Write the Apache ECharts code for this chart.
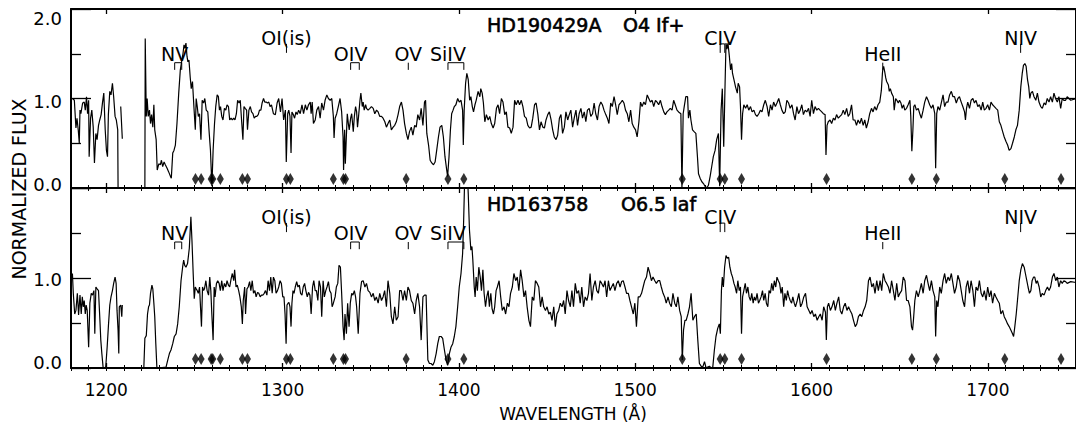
<!DOCTYPE html>
<html><head><meta charset="utf-8">
<script src="https://cdn.jsdelivr.net/npm/echarts@6/dist/echarts.min.js"></script>
<style>html,body{margin:0;padding:0;background:#fff}#c{width:1076px;height:435px}</style>
</head><body><div id="c"></div>
<script>
// ---- data ----
const xTicks = [1200,1300,1400,1500,1600,1700];
const yTicks = [0,1,2];
const titleTop = ['HD190429A','O4 If+'];
const titleBottom = ['HD163758','O6.5 Iaf'];

// interstellar lines (diamonds)
const ismLines = [1250.6,1253.8,1259.5,1260.4,1264.7,1277.2,1280.1,1302.2,1304.4,1328.8,1334.5,1335.7,1370.1,1393.8,1402.8,1526.7,1548.2,1550.8,1560.3,1608.5,1656.9,1670.8,1709.6,1741.5];

// stellar line identifications
const lineNames  = ['NV','OI(is)','OIV','OV','SiIV','CIV','HeII','NIV'];
const lineLam1   = [1238.8,1302.2,1338.6,1371.3,1393.8,1548.2,1640.4,1718.6];
const lineLam2   = [1242.8,null,1343.5,null,1402.8,1550.8,null,null];
const lineTextY  = [1.50,1.68,1.50,1.50,1.50,1.68,1.50,1.68];
const lineMarkTop= [1.40,1.61,1.40,1.40,1.40,1.61,1.40,1.61];
const lineMarkBot= [1.32,1.51,1.32,1.32,1.32,1.51,1.32,1.51];

// HD190429A spectrum [wavelength, normalized flux]
const specTop = [
[1180.9,1.00],[1181.9,0.98],[1182.8,0.67],[1183.4,0.78],[1184.1,0.65],[1184.7,0.50],[1185.1,0.87],[1185.6,0.83],[1186.6,0.95],[1187.5,0.96],[1188.1,0.87],[1188.8,1.02],[1189.4,0.83],[1190.0,0.98],[1190.3,0.35],[1191.1,0.78],[1191.8,0.87],[1192.6,0.68],[1193.3,0.28],[1194.1,0.61],[1194.8,0.54],[1195.6,0.70],[1196.3,0.76],[1197.1,0.82],[1197.9,0.96],[1198.6,1.06],[1199.4,0.65],[1200.1,0.42],[1200.7,0.35],[1201.2,0.82],[1202.0,1.08],[1202.7,1.04],[1203.5,1.17],[1204.2,1.02],[1205.0,0.80],[1205.7,0.76],[1206.5,0.65],[1206.7,0.0],[1207.0,null],
[1208.2,0.91],[1209.1,0.55],[1210.0,null],
[1221.9,0.0],[1222.1,1.67],[1222.7,0.80],[1223.2,1.00],[1223.8,0.80],[1224.5,0.87],[1225.1,0.72],[1225.7,0.82],[1226.4,0.68],[1227.0,0.93],[1227.5,0.65],[1228.3,0.54],[1228.9,0.20],[1229.8,0.27],[1230.7,0.26],[1231.3,0.31],[1232.0,0.24],[1232.8,0.29],[1233.5,0.26],[1234.5,0.22],[1235.4,0.18],[1236.4,0.13],[1236.9,0.11],[1237.7,0.39],[1238.4,0.42],[1239.2,0.48],[1240.1,0.72],[1241.1,1.06],[1242.0,1.32],[1242.9,1.43],[1243.5,1.50],[1244.1,1.60],[1244.6,1.56],[1245.2,1.62],[1245.8,1.47],[1246.3,1.41],[1246.9,1.43],[1247.6,1.24],[1248.2,1.11],[1248.9,1.19],[1249.7,0.91],[1250.5,0.65],[1251.0,1.00],[1251.6,0.91],[1252.2,0.80],[1252.9,0.83],[1253.7,0.54],[1254.4,0.98],[1255.2,0.95],[1255.9,1.00],[1256.7,0.87],[1257.6,0.85],[1258.4,0.61],[1259.1,0.42],[1259.9,0.02],[1260.6,0.42],[1261.4,0.72],[1262.1,0.91],[1262.9,1.04],[1263.6,1.02],[1264.2,0.87],[1264.8,0.91],[1265.5,0.80],[1266.2,0.76],[1267.0,0.89],[1267.8,0.87],[1268.5,0.93],[1269.3,0.91],[1270.0,0.76],[1270.8,0.78],[1271.5,0.76],[1272.3,0.78],[1273.0,0.76],[1273.8,0.83],[1274.5,0.98],[1275.3,0.95],[1276.0,0.98],[1276.8,0.74],[1277.5,0.54],[1278.1,0.91],[1278.8,0.89],[1279.6,0.87],[1280.1,0.65],[1280.9,0.87],[1281.7,0.91],[1282.4,0.85],[1283.2,0.83],[1283.9,0.78],[1284.7,0.80],[1285.4,0.80],[1286.2,0.82],[1286.9,0.87],[1287.7,0.87],[1288.4,0.95],[1289.2,1.00],[1289.9,0.96],[1290.7,0.96],[1291.4,0.95],[1292.2,0.96],[1292.9,0.91],[1293.7,0.93],[1294.8,0.83],
[1295.9,0.82],[1296.9,0.95],[1297.8,1.00],[1298.8,0.85],[1299.7,1.00],[1300.6,0.76],[1301.6,0.87],[1302.1,0.29],[1302.9,0.83],[1303.5,0.87],[1304.2,0.80],[1304.8,0.39],[1305.3,0.85],[1306.1,0.82],[1306.8,0.78],[1307.6,0.85],[1308.3,0.82],[1309.1,0.87],[1310.0,0.83],[1311.0,0.93],[1311.9,0.83],[1312.9,0.93],[1313.8,0.87],[1314.7,0.93],[1315.7,0.96],[1316.2,0.83],[1316.8,0.96],[1317.5,0.72],[1318.5,0.76],[1319.4,0.87],[1320.4,0.91],[1321.3,0.78],[1322.2,0.95],[1323.2,0.87],[1324.1,0.98],[1325.1,1.04],[1326.0,1.00],[1327.0,0.98],[1327.9,1.00],[1328.8,0.80],[1329.2,0.56],[1329.8,0.78],[1330.7,0.83],[1331.6,0.91],[1332.6,1.00],[1333.5,0.85],[1334.3,0.57],[1334.6,0.20],[1335.2,0.65],[1335.6,0.27],[1336.1,0.54],[1336.7,0.83],[1337.3,0.72],[1337.8,0.65],[1338.6,0.78],[1339.2,0.83],[1340.1,0.63],[1340.7,0.80],[1341.4,0.91],[1342.0,0.85],[1342.5,0.68],[1343.1,0.80],[1343.9,0.98],[1344.4,1.06],[1345.2,0.91],[1345.7,0.96],[1346.3,0.87],[1347.1,0.93],[1347.6,0.89],[1348.5,0.87],[1349.5,0.89],[1350.4,0.91],[1351.4,0.89],[1352.3,0.83],[1353.3,0.87],[1354.2,0.85],[1355.1,0.80],[1356.1,0.80],[1357.0,0.78],[1358.0,0.74],[1358.9,0.68],[1359.8,0.72],[1360.8,0.76],[1361.7,0.65],[1362.7,0.68],[1363.6,0.70],[1364.5,0.74],[1365.5,0.82],[1366.4,0.91],[1367.4,0.96],[1368.3,0.87],[1369.2,0.72],[1370.2,0.61],[1371.1,0.54],[1372.0,0.63],[1373.0,0.68],[1373.9,0.59],[1374.9,0.70],[1375.8,0.68],[1376.7,0.82],[1377.7,0.76],[1378.6,0.89],[1379.6,0.70],[1380.5,0.96],[1381.1,0.98],[1381.8,0.61],[1382.8,0.48],[1383.7,0.31],[1384.6,0.28],[1385.6,0.26],[1386.5,0.29],[1387.4,0.42],[1388.4,0.57],[1389.3,0.68],[1390.3,0.70],[1391.2,0.57],[1392.1,0.35],[1393.1,0.20],[1393.6,0.13],[1394.4,0.35],[1395.2,0.65],[1395.9,0.83],[1396.7,0.87],[1397.4,0.91],[1398.3,0.93],[1399.3,1.00],[1400.2,0.96],[1401.2,0.98],[1402.1,0.87],[1402.5,0.48],[1403.0,0.87],[1403.8,1.17],[1404.5,1.28],[1405.3,1.21],[1406.1,0.98],[1406.8,1.02],[1407.6,0.91],[1408.3,0.85],[1409.1,0.93],[1409.8,0.98],
[1410.9,1.08],[1411.9,1.02],[1412.4,1.11],[1413.2,1.06],[1413.9,0.95],[1414.7,0.74],[1415.6,0.82],[1416.6,0.76],[1417.5,0.80],[1418.4,0.72],[1419.4,0.67],[1420.3,0.72],[1421.3,0.89],[1422.2,0.93],[1423.1,0.83],[1424.1,1.00],[1425.0,0.96],[1426.0,0.82],[1426.9,0.85],[1427.8,0.68],[1428.8,0.67],[1429.7,0.61],[1430.7,0.68],[1431.6,0.98],[1432.5,0.93],[1433.5,0.98],[1434.4,0.93],[1435.4,0.98],[1436.3,0.91],[1437.2,0.80],[1438.2,0.78],[1439.1,0.70],[1440.1,0.67],[1441.0,0.68],[1441.9,0.78],[1442.9,0.93],[1443.8,0.95],[1444.8,0.82],[1445.7,0.65],[1446.6,0.74],[1447.6,0.68],[1448.5,0.67],[1449.4,0.76],[1450.4,0.82],[1451.3,0.85],[1452.3,0.76],[1453.2,0.65],[1454.1,0.57],[1455.1,0.54],[1456.0,0.59],[1457.0,0.78],[1457.9,0.82],[1458.8,0.61],[1459.8,0.68],[1460.7,0.85],[1461.7,0.76],[1462.6,0.82],[1463.5,0.87],[1464.5,0.68],[1465.4,0.78],[1466.4,0.87],[1467.3,0.70],[1468.2,0.83],[1469.2,0.89],[1470.1,0.78],[1471.1,0.85],[1472.0,0.74],[1472.9,0.87],[1473.9,0.89],[1474.8,0.80],[1475.8,0.83],[1476.7,0.95],[1477.6,0.83],[1478.6,0.76],[1479.5,0.91],[1480.5,0.96],[1481.4,0.93],[1482.3,0.87],[1483.3,0.82],[1484.2,0.78],[1485.1,0.72],[1486.1,0.95],[1487.0,0.91],[1488.0,1.02],[1488.9,0.93],[1489.8,0.82],[1490.8,0.93],[1491.7,0.95],[1492.7,0.98],[1493.6,0.95],[1494.5,0.87],[1495.5,0.83],[1496.4,0.74],[1497.4,0.87],[1498.3,0.72],[1499.2,0.68],[1500.2,0.65],[1501.1,0.57],[1502.1,0.74],[1503.0,0.96],[1503.9,0.91],[1504.9,0.96],[1505.8,0.93],[1506.8,1.04],[1507.7,1.00],[1508.6,0.96],[1509.6,0.98],[1510.5,0.91],[1511.5,0.98],[1512.4,0.96],[1513.3,0.93],[1514.3,0.98],[1515.2,0.91],[1516.2,0.85],[1517.1,0.82],[1518.0,0.85],[1519.0,0.87],[1519.9,0.89],[1520.9,0.87],[1521.8,0.98],[1522.7,0.93],[1523.7,0.87],[1524.6,0.85],
[1525.9,0.83],[1526.5,0.0],[1527.2,0.83],[1527.8,0.91],[1528.7,1.02],[1529.7,1.02],[1530.2,0.78],[1531.0,0.87],[1531.6,0.76],[1532.5,0.65],[1533.4,0.63],[1534.4,0.61],[1535.3,0.35],[1535.9,0.16],[1536.8,0.11],[1537.8,0.07],[1538.7,0.05],[1539.6,0.02],[1540.6,0.0],[1541.5,0.03],[1542.5,0.13],[1543.4,0.24],[1544.3,0.35],[1545.3,0.42],[1546.2,0.54],[1547.2,0.61],[1547.9,0.02],[1548.7,0.87],[1549.4,1.11],[1550.2,0.46],[1550.9,1.10],[1551.5,1.62],[1552.0,1.55],[1552.6,1.62],[1553.4,1.47],[1554.1,1.32],[1554.7,1.39],[1555.2,1.28],[1556.0,1.21],[1556.9,1.13],[1557.9,1.06],[1558.4,1.17],[1559.2,1.13],[1559.7,0.91],[1560.3,0.54],[1560.9,0.83],[1561.6,0.93],[1562.6,0.89],[1563.5,0.93],[1564.4,0.87],[1565.4,0.91],[1566.3,0.85],[1567.3,0.87],[1568.2,0.82],[1569.1,0.80],[1570.1,0.83],[1571.0,0.87],[1571.9,0.85],[1572.9,0.93],[1573.8,0.98],[1574.8,0.91],[1575.7,0.80],[1576.7,0.93],[1577.6,0.87],[1578.5,0.96],[1579.5,0.91],[1580.4,0.95],[1581.4,1.00],[1582.3,0.93],[1583.2,0.87],[1584.2,0.83],[1585.1,0.85],[1586.0,0.98],[1587.0,0.95],[1587.9,0.89],[1588.9,0.93],[1589.8,0.83],[1590.7,0.76],[1591.7,0.91],[1592.6,0.83],[1593.6,0.87],[1594.5,0.93],[1595.4,0.82],[1596.4,0.87],[1597.3,0.85],[1598.3,0.89],[1599.2,0.80],[1600.1,0.98],[1601.1,0.83],[1602.0,0.91],[1603.0,0.87],[1603.9,0.89],[1604.8,0.87],[1605.8,0.85],[1606.7,0.83],[1607.7,0.82],[1608.2,0.37],[1608.8,0.70],[1609.5,0.74],[1610.5,0.76],[1611.4,0.72],[1612.4,0.78],[1613.3,0.76],[1614.2,0.82],[1615.2,0.78],[1616.1,0.80],[1617.1,0.82],[1618.0,0.87],[1618.9,0.82],[1619.9,0.89],[1620.8,0.80],[1621.7,0.83],[1622.7,0.93],[1623.6,0.76],[1624.6,0.76],[1625.5,0.70],[1626.4,0.76],[1627.4,0.72],[1628.3,0.78],[1629.3,0.70],[1630.2,0.76],[1631.1,0.67],[1632.1,0.74],[1633.0,0.83],[1634.0,0.89],[1634.9,0.85],[1635.8,0.91],[1636.8,0.87],[1637.7,0.93],[1638.7,0.96],[1639.6,1.09],[1640.2,1.28],
[1640.4,1.32],[1640.9,1.36],[1641.5,1.30],[1642.1,1.23],[1642.6,1.19],[1643.6,1.15],[1644.1,1.08],[1644.7,1.11],[1645.4,1.06],[1646.4,1.02],[1646.9,0.87],[1647.7,1.00],[1648.4,0.98],[1649.2,0.95],[1649.9,0.98],[1650.7,0.95],[1651.4,0.89],[1652.2,0.93],[1652.9,0.87],[1653.9,0.89],[1654.8,0.93],[1655.8,0.98],[1656.3,0.80],[1656.9,0.41],[1657.5,0.65],[1658.0,0.91],[1658.6,0.93],[1659.5,0.87],[1660.5,0.89],[1661.4,0.83],[1662.3,0.78],[1663.3,0.87],[1664.2,0.96],[1665.2,1.02],[1666.1,0.98],[1667.0,0.93],[1668.0,0.89],[1668.9,0.93],[1669.9,0.83],[1670.4,0.22],[1671.0,0.83],[1671.7,0.91],[1672.7,0.87],[1673.6,0.95],[1674.6,1.04],[1675.5,0.91],[1676.4,0.96],[1677.4,0.96],[1678.3,1.04],[1679.3,1.08],[1680.2,1.02],[1681.1,1.02],[1682.1,0.95],[1683.0,1.00],[1683.9,1.02],[1684.9,0.96],[1685.8,0.91],[1686.8,0.85],[1687.3,0.76],[1687.9,0.89],[1688.6,0.96],[1689.6,0.89],[1690.5,0.98],[1691.5,1.00],[1692.4,0.95],[1693.3,0.98],[1694.3,0.91],[1695.2,0.93],[1696.2,0.87],[1697.1,0.96],[1698.0,0.87],[1699.0,0.89],[1699.9,0.93],[1700.9,0.87],[1701.8,0.96],[1702.7,0.93],[1703.7,0.91],[1704.6,0.89],[1705.6,0.87],[1706.5,0.74],[1707.4,0.70],[1708.4,0.63],[1709.3,0.57],[1710.3,0.52],[1711.2,0.48],[1712.1,0.42],[1713.1,0.44],[1714.0,0.50],[1715.0,0.57],[1715.9,0.65],[1716.8,0.70],[1717.8,0.87],[1718.7,1.13],[1719.5,1.28],[1720.2,1.37],[1721.0,1.39],[1721.7,1.36],[1722.5,1.21],[1723.2,1.13],[1723.8,1.00],[1724.4,1.06],[1725.3,1.08],[1726.2,1.02],[1727.2,0.98],[1728.1,1.06],[1729.0,0.96],[1730.0,0.91],[1730.9,0.89],[1731.9,0.95],[1732.8,0.93],[1733.7,1.00],[1734.7,0.96],[1735.6,1.02],[1736.6,0.96],[1737.5,1.06],[1738.4,1.00],[1739.4,0.96],[1740.3,1.02],[1741.3,0.89],[1742.2,1.00],[1743.1,0.98],[1744.1,0.98],[1745.0,1.02],[1747.0,0.98],[1750.0,1.00]
];

// HD163758 spectrum [wavelength, normalized flux]
const specBottom = [
[1180.0,0.97],[1180.8,1.05],[1181.3,0.83],[1182.1,0.60],[1182.8,0.64],[1183.6,0.83],[1184.3,0.59],[1185.1,0.81],[1185.8,0.60],[1186.4,0.79],[1187.0,0.68],[1187.5,0.75],[1188.1,0.60],[1188.6,0.70],[1189.2,0.64],[1190.0,0.23],[1190.7,0.72],[1191.5,0.83],[1192.2,0.81],[1193.0,0.86],[1193.5,0.38],[1194.1,0.90],[1194.8,0.88],[1195.6,0.86],[1196.4,0.53],[1196.9,0.31],[1197.5,0.16],[1198.2,0.01],[1198.8,0.0],[1199.7,0.01],[1200.5,0.23],[1201.2,0.46],[1202.0,0.70],[1202.7,0.79],[1203.5,0.86],[1204.2,0.94],[1205.0,1.01],[1205.6,0.94],[1206.1,0.64],[1206.7,0.42],[1207.1,0.16],[1207.4,0.68],[1208.2,0.70],[1208.8,0.57],[1209.1,0.70],[1209.5,null],
[1221.3,0.0],[1221.9,0.33],[1222.7,0.36],[1223.4,0.60],[1224.0,0.68],[1224.5,0.70],[1225.1,0.83],[1225.9,0.92],[1226.4,0.88],[1227.0,0.72],[1227.5,0.57],[1228.1,0.27],[1228.7,0.01],[1229.4,0.0],[1233.9,0.01],[1234.9,0.09],[1235.8,0.16],[1236.7,0.20],[1237.7,0.27],[1238.6,0.35],[1239.6,0.38],[1240.5,0.49],[1241.4,0.68],[1242.4,0.97],[1243.3,1.12],[1243.9,1.20],[1244.5,1.14],[1245.2,1.12],[1246.1,1.16],[1247.1,1.33],[1248.0,1.68],[1248.6,1.42],[1249.3,1.05],[1249.9,0.77],[1250.5,0.90],[1251.0,0.88],[1251.6,0.86],[1252.2,0.83],[1252.9,0.90],[1253.5,0.66],[1254.0,0.46],[1254.6,0.90],[1255.2,0.86],[1255.7,0.88],[1256.5,0.97],[1257.2,0.86],[1258.0,0.81],[1258.7,1.01],[1259.3,0.86],[1259.9,0.59],[1260.6,0.31],[1261.2,0.90],[1261.7,0.79],[1262.5,0.94],[1263.2,0.97],[1264.0,0.94],[1264.7,0.86],[1265.5,0.97],[1266.2,0.86],[1267.0,0.94],[1267.8,0.90],[1268.5,0.97],[1269.3,0.92],[1270.0,0.90],[1270.8,0.99],[1271.5,1.05],[1272.3,0.97],[1272.8,1.09],[1273.6,0.90],[1274.3,0.92],[1275.1,0.86],[1275.8,0.79],[1276.6,0.68],[1277.2,0.49],[1277.7,0.75],[1278.5,0.90],[1279.0,0.60],[1279.8,0.88],[1280.5,0.90],[1281.3,0.96],[1282.0,0.86],[1282.8,0.97],[1283.5,0.83],[1284.3,0.86],[1285.0,0.79],[1285.8,0.84],[1286.5,0.83],[1287.3,0.79],[1288.0,0.81],[1288.8,0.81],[1289.6,0.83],[1290.3,0.86],[1291.1,0.81],[1291.8,0.97],[1292.6,0.86],[1293.3,1.01],[1294.1,0.83],[1294.8,1.01],[1295.6,0.97],[1296.3,0.83],[1297.1,0.86],[1297.8,0.90],[1298.6,0.97],[1299.3,0.94],[1300.1,0.79],[1300.8,0.79],[1301.4,0.60],[1302.0,0.27],[1302.5,0.70],[1303.1,0.72],[1303.6,0.73],[1304.2,0.68],[1304.8,0.46],[1305.3,0.72],[1305.9,0.86],[1306.5,0.83],[1307.2,0.90],[1308.0,0.96],[1308.7,0.90],[1309.5,0.92],[1310.2,0.83],[1311.0,0.81],[1311.7,0.90],[1312.5,0.94],[1313.2,0.86],[1314.0,0.79],[1314.7,0.84],[1315.5,0.81],[1316.2,0.60],[1317.0,0.90],[1317.7,0.97],[1318.5,0.86],[1319.2,0.86],[1320.0,0.75],[1320.7,0.97],[1321.5,0.90],[1322.2,0.57],[1323.0,0.97],[1323.7,0.79],[1324.5,0.86],[1325.2,0.90],[1326.0,0.96],[1326.7,0.86],[1327.5,0.83],[1328.1,0.68],[1328.8,0.72],[1329.8,0.79],[1330.5,0.90],[1331.3,0.94],[1332.0,1.14],[1332.8,1.12],[1333.5,0.83],[1334.3,0.46],[1334.9,0.31],[1335.4,0.60],[1336.2,0.38],[1336.9,0.72],[1337.7,0.46],[1338.4,0.72],[1339.2,0.83],[1339.9,0.81],[1340.7,0.86],[1341.4,0.79],
[1342.0,0.68],[1342.9,0.38],[1343.9,0.83],[1344.8,0.96],[1345.7,0.97],[1346.7,0.90],[1347.6,0.94],[1348.5,0.86],[1349.5,0.84],[1350.4,0.79],[1351.4,0.83],[1352.3,0.75],[1353.2,0.79],[1354.2,0.72],[1355.1,0.83],[1356.1,0.75],[1357.0,0.79],[1357.9,0.86],[1358.9,0.68],[1359.8,0.97],[1360.8,0.83],[1361.7,0.57],[1362.6,0.49],[1363.6,0.68],[1364.5,0.53],[1365.5,0.57],[1366.4,0.86],[1367.3,0.86],[1368.3,0.75],[1369.2,0.86],[1370.2,0.75],[1371.1,0.90],[1372.0,0.86],[1373.0,0.75],[1373.9,0.72],[1374.9,0.60],[1375.8,0.75],[1376.7,0.83],[1377.7,0.68],[1378.6,0.31],[1379.6,0.79],[1380.5,0.81],[1381.4,0.81],[1382.4,0.09],[1383.3,0.05],[1384.2,0.05],[1385.2,0.03],[1386.1,0.07],[1387.1,0.16],[1388.0,0.27],[1388.9,0.35],[1389.9,0.35],[1390.8,0.33],[1391.8,0.20],[1392.7,0.09],[1393.6,0.03],[1394.6,0.16],[1395.5,0.23],[1396.5,0.27],[1397.4,0.35],[1398.3,0.46],[1399.3,0.68],[1400.2,0.90],[1401.2,1.05],[1402.1,1.27],[1402.7,1.64],[1403.4,2.20],[1404.2,2.30],[1404.7,2.20],[1405.3,1.94],[1406.0,1.53],[1406.8,1.31],[1407.4,1.35],[1407.9,1.20],[1408.7,0.90],[1409.2,0.79],[1409.8,1.01],[1410.5,0.86],[1411.3,1.12],[1412.1,1.01],[1412.8,0.86],[1413.6,1.09],[1414.3,0.83],[1415.1,0.68],[1415.8,0.79],[1416.6,0.86],[1417.3,0.68],[1418.1,0.83],[1418.8,0.66],[1419.6,0.60],[1420.3,0.68],[1421.1,0.86],[1421.8,0.90],[1422.8,0.97],[1423.7,0.79],[1424.6,0.64],[1425.6,0.68],[1426.5,0.60],[1427.5,0.72],[1428.4,0.68],[1429.3,0.83],[1430.3,0.90],[1431.2,1.05],[1432.2,0.97],[1433.1,1.01],[1434.0,0.86],[1435.0,1.09],[1435.9,0.97],[1436.9,0.79],[1437.8,0.86],[1438.7,0.68],[1439.7,0.53],[1440.6,0.46],[1441.6,0.79],[1442.5,0.75],[1443.4,0.97],[1444.4,0.94],[1445.3,0.90],[1446.3,0.68],[1447.2,0.79],[1448.1,0.68],[1449.1,0.64],[1450.0,0.68],[1451.0,0.60],[1451.9,0.62],[1452.8,0.53],[1453.8,0.68],[1454.7,0.46],[1455.6,0.60],[1456.6,0.64],[1457.5,0.72],[1458.5,0.68],[1459.4,0.75],[1460.3,0.60],[1461.3,0.86],[1462.2,0.75],[1463.2,0.68],[1464.1,0.86],[1465.0,0.68],[1466.0,0.94],[1466.9,0.83],[1467.9,0.86],[1468.8,0.72],[1469.7,0.90],[1470.7,0.68],[1471.6,0.79],[1472.6,0.75],[1473.5,0.83],[1474.4,1.05],[1475.4,0.75],[1476.3,0.90],[1477.3,0.97],[1478.2,0.86],[1479.1,0.83],[1480.1,0.97],[1481.0,0.94],[1482.0,0.90],[1482.9,0.97],[1483.8,0.79],[1484.8,0.97],[1485.7,0.86],[1486.6,0.90],[1487.6,0.94],[1488.5,0.86],[1489.5,0.94],[1490.4,0.97],[1491.4,0.90],[1492.3,0.96],[1493.2,0.97],[1494.2,0.90],[1495.1,0.83],[1496.1,0.83],[1497.0,0.75],[1497.9,0.68],[1498.9,0.60],[1499.8,0.72],[1500.7,0.46],[1501.7,0.79],[1502.6,0.79],[1503.6,0.83],[1504.5,0.90],[1505.4,0.97],[1506.4,1.01],[1507.3,1.12],[1508.3,1.05],[1509.2,0.97],[1510.1,1.01],[1511.1,0.97],[1512.0,0.94],[1513.0,0.97],[1513.9,0.97],[1514.8,0.90],[1515.8,0.83],[1516.7,0.79],[1517.6,0.72],[1518.6,0.79],[1519.5,0.72],[1520.5,0.68],[1521.4,0.83],[1522.4,0.72],[1523.3,0.68],[1524.2,0.79],[1525.2,0.64],[1526.1,0.57],[1526.7,0.09],[1527.4,0.42],[1528.2,0.53],[1528.9,0.53],[1529.9,0.60],[1530.8,0.68],[1531.7,0.83],[1532.7,0.53],[1533.6,0.57],[1534.6,0.60],[1535.5,0.31],[1536.4,0.05],[1537.4,0.02],[1538.3,0.01],[1539.3,0.07],[1540.2,0.0],[1541.1,0.01],[1542.1,0.02],[1543.0,0.0],[1544.0,0.01],
[1544.9,0.20],[1545.8,0.35],[1546.8,0.44],[1547.7,0.49],[1548.3,0.38],[1548.9,0.86],[1549.4,1.01],[1550.0,0.90],[1550.7,1.12],[1551.5,1.25],[1552.2,1.22],[1553.0,1.23],[1553.7,1.12],[1554.5,1.05],[1555.2,1.01],[1556.0,0.94],[1556.7,0.90],[1557.5,0.83],[1558.2,0.97],[1559.0,0.86],[1559.7,0.90],[1560.3,0.38],[1560.9,0.79],[1561.6,0.86],[1562.4,0.94],[1563.1,0.83],[1563.9,0.90],[1564.6,0.79],[1565.4,0.75],[1566.1,0.83],[1566.9,0.72],[1567.6,0.79],[1568.4,0.75],[1569.1,0.83],[1569.9,0.72],[1570.6,0.75],[1571.4,0.79],[1572.2,0.86],[1572.9,0.75],[1573.7,0.83],[1574.4,0.72],[1575.2,0.68],[1575.9,0.86],[1576.7,0.83],[1577.4,0.94],[1578.2,0.86],[1578.9,0.97],[1579.7,0.90],[1580.4,1.01],[1581.2,0.97],[1581.9,0.94],[1582.7,0.83],[1583.4,0.90],[1584.2,0.68],[1584.9,0.83],[1585.7,0.75],[1586.4,0.86],[1587.2,0.79],[1587.9,0.75],[1588.7,0.72],[1589.4,0.79],[1590.2,0.72],[1590.9,0.68],[1591.9,0.75],[1592.8,0.83],[1593.8,0.68],[1594.7,0.72],[1595.6,0.79],[1596.6,0.83],[1597.5,0.68],[1598.5,0.64],[1599.4,0.60],[1600.3,0.64],[1601.3,0.57],[1602.2,0.60],[1603.2,0.53],[1604.1,0.57],[1605.0,0.60],[1606.0,0.53],[1606.9,0.68],[1607.9,0.62],[1608.4,0.31],[1609.0,0.68],[1609.7,0.72],[1610.7,0.64],[1611.6,0.68],[1612.6,0.75],[1613.5,0.64],[1614.4,0.72],[1615.4,0.79],[1616.3,0.64],[1617.2,0.60],[1618.2,0.68],[1619.1,0.72],[1620.1,0.64],[1621.0,0.68],[1621.9,0.64],[1622.9,0.60],[1623.8,0.53],[1624.8,0.46],[1625.7,0.49],[1626.6,0.57],[1627.6,0.60],[1628.5,0.57],[1629.5,0.64],[1630.4,0.68],[1631.3,0.75],[1632.3,0.97],[1633.2,1.01],[1634.2,0.90],[1635.1,0.94],[1636.0,0.83],[1637.0,0.97],[1637.9,0.86],[1638.9,0.97],[1639.8,0.86],[1640.7,1.05],[1641.7,0.97],[1642.6,0.94],[1643.6,0.90],[1644.5,0.83],[1645.4,0.97],[1646.4,0.86],[1647.3,0.75],[1648.3,0.94],[1649.2,0.79],[1650.1,0.83],[1651.1,0.86],[1652.0,1.01],[1653.0,0.97],[1653.9,0.75],[1654.8,0.75],[1655.8,0.68],[1656.7,0.46],[1657.3,0.42],[1657.8,0.53],[1658.6,0.75],[1659.5,0.86],[1660.5,0.79],[1661.4,0.86],[1662.3,0.94],[1663.3,0.83],[1664.2,0.97],[1665.2,1.03],[1666.1,0.94],[1667.0,0.86],[1668.0,0.97],[1668.9,0.86],[1669.9,0.79],[1670.4,0.35],[1671.0,0.75],[1671.7,0.68],[1672.7,0.90],[1673.6,0.83],[1674.6,0.97],[1675.5,1.05],[1676.4,0.94],[1677.4,1.01],[1678.3,0.97],[1679.3,1.05],[1680.2,0.94],[1681.1,0.83],[1682.1,0.90],[1683.0,1.03],[1684.0,0.97],[1684.9,0.86],[1685.8,0.75],[1686.8,0.68],[1687.7,0.90],[1688.6,0.97],[1689.6,0.83],[1690.5,0.97],[1691.5,0.86],[1692.4,0.68],[1693.3,0.90],[1694.3,0.86],[1695.2,0.97],[1696.2,0.83],[1697.1,0.79],[1698.0,0.86],[1699.0,0.75],[1699.9,0.90],[1700.9,0.79],[1701.8,0.86],[1702.7,0.72],[1703.7,0.83],[1704.6,0.79],[1705.6,0.75],[1706.5,0.72],[1707.4,0.60],[1708.4,0.64],[1709.3,0.57],[1710.3,0.53],[1711.2,0.49],[1712.1,0.46],[1713.1,0.42],[1714.0,0.38],[1714.6,0.35],[1715.3,0.46],[1716.1,0.60],[1716.8,0.75],[1717.8,0.97],[1718.7,1.09],[1719.6,1.16],[1720.6,1.12],[1721.3,1.05],[1722.1,0.97],[1722.8,0.90],[1723.6,0.83],[1724.4,0.86],[1725.1,0.97],[1725.9,1.01],[1726.6,1.01],[1727.4,0.94],[1728.1,0.97],[1729.1,0.90],[1730.0,0.79],[1730.9,0.83],[1731.9,0.81],[1732.8,0.86],[1733.8,0.90],[1734.7,0.86],[1735.6,0.90],[1736.6,1.01],[1737.5,1.05],[1738.5,0.97],[1739.4,1.01],[1740.3,0.90],[1741.3,0.97],[1742.2,0.94],[1743.1,0.97],[1744.1,0.96],[1745.0,0.94],[1747.0,0.96],[1750.0,0.95]
];

// ---- chart ----
const X_MIN = 1180, X_MAX = 1750;
const FONT = 'DejaVu Sans';
const ISM_Y = 0.1;

function xAxes(grid, pos, labels) {
  return [
    { type:'value', gridIndex:grid, position:pos, min:X_MIN, max:X_MAX,
      axisLine:{show:true, onZero:false, lineStyle:{color:'#000', width:2}},
      axisTick:{show:true, inside:true, length:5, customValues:xTicks, lineStyle:{color:'#000', width:1.3}},
      axisLabel:{show:labels, customValues:xTicks, formatter:v=>String(v), margin:13, color:'#000', fontFamily:FONT, fontSize:17},
      splitLine:{show:false} },
    { type:'value', gridIndex:grid, position:pos, min:X_MIN, max:X_MAX, interval:10,
      axisLine:{show:false}, axisTick:{show:true, inside:true, length:3, lineStyle:{color:'#000', width:1}},
      axisLabel:{show:false}, splitLine:{show:false} }
  ];
}
function yAxis(grid, pos, rich) {
  const ax = { type:'value', gridIndex:grid, position:pos, min:0, max:2, interval:1,
    axisLine:{show:true, onZero:false, lineStyle:{color:'#000', width:2}},
    axisTick:{show:true, inside:true, length:20, lineStyle:{color:'#000', width:1.3}},
    minorTick:{show:true, splitNumber:2, length:10, lineStyle:{color:'#000', width:1.3}},
    splitLine:{show:false}, minorSplitLine:{show:false}, axisLabel:{show:false} };
  if (rich) {
    ax.axisLabel = { show:true, margin:9, color:'#000', fontFamily:FONT, fontSize:18,
      formatter: v => rich[v] ? '{' + rich[v].k + '|' + v.toFixed(1) + '}' : '',
      rich: Object.fromEntries(Object.values(rich).map(r => [r.k, {padding:r.p, fontFamily:FONT, fontSize:18, color:'#000'}])) };
  }
  return ax;
}

function labelSeries(xi, yi) {
  return {
    type:'custom', xAxisIndex:xi, yAxisIndex:yi, clip:false, silent:true,
    data: lineLam1.map((l, i) => [l, lineLam2[i] == null ? l : lineLam2[i], lineTextY[i], lineMarkTop[i], lineMarkBot[i]]),
    renderItem: (params, api) => {
      const i = params.dataIndex;
      const l1 = api.value(0), l2 = api.value(1);
      const tp = api.coord([l1, api.value(2)]);
      const a = api.coord([l1, api.value(3)]), b = api.coord([l1, api.value(4)]);
      const c = api.coord([l2, api.value(3)]), d = api.coord([l2, api.value(4)]);
      const pts = (l2 === l1) ? [b, a] : [b, a, c, d];
      return { type:'group', children:[
        { type:'text', x:tp[0], y:tp[1], style:{text:lineNames[i], align:'center', verticalAlign:'middle',
          font:'19px "DejaVu Sans"', fill:'#000'} },
        { type:'polyline', shape:{points:pts}, style:{stroke:'#000', lineWidth:1, fill:null} }
      ]};
    }
  };
}

const titleStyle = {font:'19px "DejaVu Sans"', fill:'#000', stroke:'#000', lineWidth:0.6, verticalAlign:'middle'};
const chart = echarts.init(document.getElementById('c'), null, {renderer:'svg', width:1076, height:435});
chart.setOption({
  backgroundColor:'#fff',
  animation:false,
  grid:[
    {left:71, right:-6, top:9, height:179},
    {left:71, right:-6, top:188, height:180}
  ],
  xAxis:[].concat(xAxes(0,'bottom',false), xAxes(0,'top',false), xAxes(1,'bottom',true), xAxes(1,'top',false)),
  yAxis:[
    yAxis(0,'left',{2:{k:'t',p:[18,0,0,0]},1:{k:'m',p:[5,0,0,0]},0:{k:'b',p:[0,0,8,0]}}),
    yAxis(0,'right',null),
    yAxis(1,'left',{1:{k:'m',p:[3,0,0,0]},0:{k:'b',p:[0,0,11,0]}}),
    yAxis(1,'right',null)
  ],
  graphic:[
    {type:'text', x:487, y:25, style:Object.assign({text:titleTop[0]}, titleStyle)},
    {type:'text', x:623, y:25, style:Object.assign({text:titleTop[1]}, titleStyle)},
    {type:'text', x:487, y:204, style:Object.assign({text:titleBottom[0]}, titleStyle)},
    {type:'text', x:621, y:204, style:Object.assign({text:titleBottom[1]}, titleStyle)},
    {type:'text', x:573, y:414, style:{text:'WAVELENGTH (Å)', font:'17px "DejaVu Sans"', fill:'#000', align:'center', verticalAlign:'middle'}},
    {type:'text', x:19, y:189, rotation:Math.PI/2, style:{text:'NORMALIZED FLUX', font:'19px "DejaVu Sans"', fill:'#000', align:'center', verticalAlign:'middle'}}
  ],
  series:[
    {type:'line', xAxisIndex:0, yAxisIndex:0, data:specTop, showSymbol:false, symbol:'none', connectNulls:false,
     lineStyle:{color:'#000', width:1.2}, clip:true, silent:true},
    {type:'line', xAxisIndex:4, yAxisIndex:2, data:specBottom, showSymbol:false, symbol:'none', connectNulls:false,
     lineStyle:{color:'#000', width:1.2}, clip:true, silent:true},
    {type:'scatter', xAxisIndex:0, yAxisIndex:0, data:ismLines.map(l=>[l, ISM_Y]), symbol:'diamond', symbolSize:[7,12],
     itemStyle:{color:'#000'}, silent:true},
    {type:'scatter', xAxisIndex:4, yAxisIndex:2, data:ismLines.map(l=>[l, ISM_Y]), symbol:'diamond', symbolSize:[7,12],
     itemStyle:{color:'#000'}, silent:true},
    labelSeries(0,0),
    labelSeries(4,2)
  ]
});
</script>
</body></html>
